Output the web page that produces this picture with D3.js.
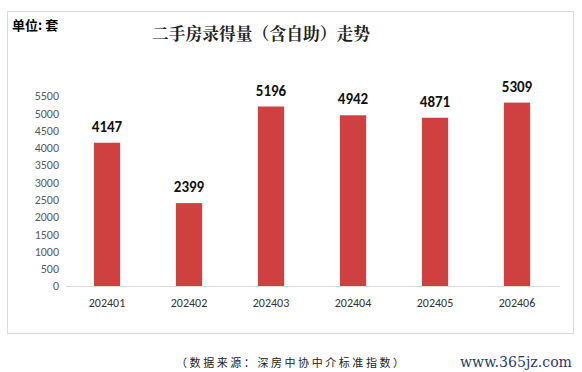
<!DOCTYPE html>
<html>
<head>
<meta charset="utf-8">
<script src="https://cdn.jsdelivr.net/npm/d3@7"></script>
<style>
  body { margin: 0; background: #fff; }
  svg { display: block; }
</style>
</head>
<body>
<script>
const width = 582, height = 372;

const months = ["202401", "202402", "202403", "202404", "202405", "202406"];
const counts = [4147, 2399, 5196, 4942, 4871, 5309];
const yTicks = [0, 500, 1000, 1500, 2000, 2500, 3000, 3500, 4000, 4500, 5000, 5500];

const svg = d3.select("body").append("svg")
    .attr("width", width)
    .attr("height", height);

// outer frame
svg.append("rect")
    .attr("x", 7.5).attr("y", 11.5)
    .attr("width", 566).attr("height", 322)
    .attr("fill", "#fff")
    .attr("stroke", "#d9d9d9");

const x = d3.scaleBand()
    .domain(months)
    .range([66, 558])
    .paddingInner(0.68)
    .paddingOuter(0.34);

const y = d3.scaleLinear()
    .domain([0, 5500])
    .range([286, 96]);

// y axis labels, no line
const yAxis = svg.append("g")
    .attr("transform", "translate(59,0)")
    .call(d3.axisLeft(y).tickValues(yTicks).tickFormat(d3.format("d")).tickSize(0).tickPadding(0));
yAxis.select(".domain").remove();
yAxis.selectAll("text")
    .attr("font-family", "Carlito, Calibri, 'Liberation Sans', Arial, sans-serif")
    .attr("font-size", "12px")
    .attr("fill", "#595959");

// bars
const data = months.map((m, i) => ({ m, v: counts[i] }));

svg.selectAll(".bar")
    .data(data)
    .enter()
    .append("rect")
    .attr("class", "bar")
    .attr("x", d => x(d.m))
    .attr("y", d => y(d.v))
    .attr("width", x.bandwidth())
    .attr("height", d => y(0) - y(d.v))
    .attr("fill", "#cf4041");

// baseline
svg.append("line")
    .attr("x1", 66).attr("x2", 560)
    .attr("y1", y(0) + 0.5).attr("y2", y(0) + 0.5)
    .attr("stroke", "#d9d9d9");

// x axis labels
const xAxis = svg.append("g")
    .attr("transform", `translate(0,${y(0)})`)
    .call(d3.axisBottom(x).tickSize(0).tickPadding(12));
xAxis.select(".domain").remove();
xAxis.selectAll("text")
    .attr("font-family", "Carlito, Calibri, 'Liberation Sans', Arial, sans-serif")
    .attr("font-size", "12px")
    .attr("fill", "#333");

// value labels
svg.selectAll(".value")
    .data(data)
    .enter()
    .append("text")
    .attr("class", "value")
    .attr("x", d => x(d.m) + x.bandwidth() / 2)
    .attr("y", d => y(d.v) - 11)
    .attr("text-anchor", "middle")
    .attr("font-family", "Carlito, Calibri, 'Liberation Sans', Arial, sans-serif")
    .attr("font-size", "15px")
    .attr("font-weight", "bold")
    .attr("fill", "#111")
    .text(d => d.v);

// title
svg.append("text")
    .attr("x", 152)
    .attr("y", 40)
    .attr("textLength", 218)
    .attr("lengthAdjust", "spacingAndGlyphs")
    .attr("font-family", "'Noto Serif CJK SC', 'Noto Sans CJK SC', serif")
    .attr("font-size", "17px")
    .attr("font-weight", "bold")
    .attr("fill", "#222")
    .text("二手房录得量（含自助）走势");

// unit
svg.append("text")
    .attr("x", 12)
    .attr("y", 30)
    .attr("font-family", "'Noto Sans CJK SC', sans-serif")
    .attr("font-size", "13px")
    .attr("font-weight", "bold")
    .attr("fill", "#000")
    .text("单位: 套");

// source note
svg.append("text")
    .attr("x", 176)
    .attr("y", 367)
    .attr("textLength", 228)
    .attr("lengthAdjust", "spacing")
    .attr("font-family", "'Noto Sans CJK SC', sans-serif")
    .attr("font-size", "11px")
    .attr("fill", "#222")
    .text("（数据来源：深房中协中介标准指数）");

// watermark
svg.append("text")
    .attr("x", 460)
    .attr("y", 367)
    .attr("textLength", 112)
    .attr("lengthAdjust", "spacingAndGlyphs")
    .attr("font-family", "'DejaVu Serif', 'Liberation Serif', serif")
    .attr("font-size", "15px")
    .attr("fill", "#2b3a6b")
    .text("www.365jz.com");
</script>
</body>
</html>
